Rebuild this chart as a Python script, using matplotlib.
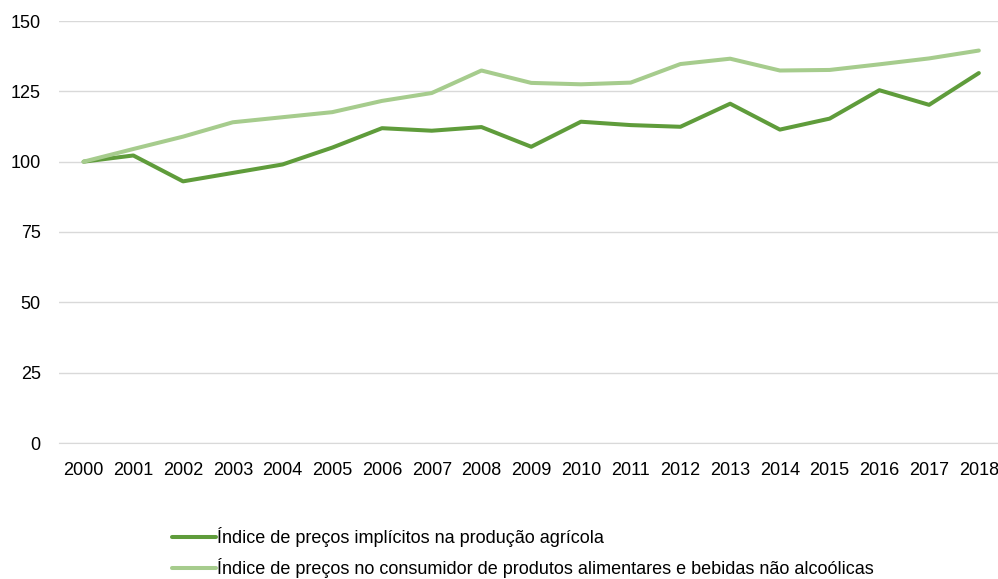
import matplotlib.pyplot as plt

plt.rcParams['font.family'] = ['Liberation Sans', 'DejaVu Sans']

years = [str(y) for y in range(2000, 2019)]
producao = [100, 102.2, 93.0, 96.0, 99.0, 105.0, 111.9, 111.0, 112.3, 105.3,
            114.2, 113.0, 112.4, 120.6, 111.4, 115.3, 125.4, 120.2, 131.5]
consumidor = [100, 104.5, 108.9, 114.0, 115.8, 117.6, 121.6, 124.4, 132.4, 128.0,
              127.5, 128.1, 134.7, 136.6, 132.4, 132.6, 134.6, 136.7, 139.5]
labels = ['Índice de preços implícitos na produção agrícola',
          'Índice de preços no consumidor de produtos alimentares e bebidas não alcoólicas']

fig = plt.figure(figsize=(9.98, 5.79), dpi=100)
ax = fig.add_axes([58.7 / 998, 136 / 579, 945 / 998, 422 / 579])

x = range(len(years))
ax.plot(x, producao, color='#5f9c3b', lw=2.9, solid_capstyle='round', label=labels[0])
ax.plot(x, consumidor, color='#a6cc8d', lw=2.9, solid_capstyle='round', label=labels[1])

ax.set_xlim(-0.5, len(years) - 0.5)
ax.set_ylim(0, 150)
ax.set_yticks([0, 25, 50, 75, 100, 125, 150])
ax.set_xticks(list(x))
ax.set_xticklabels(years)
ax.grid(axis='y', color='#d9d9d9', lw=1)
ax.set_axisbelow(True)
for s in ['top', 'right', 'left']:
    ax.spines[s].set_visible(False)
ax.spines['bottom'].set_color('#d9d9d9')
ax.tick_params(length=0, labelsize=13, colors='#000000')
ax.tick_params(axis='y', pad=13)
ax.tick_params(axis='x', pad=13.5)

fig.legend(loc='upper left', bbox_to_anchor=(172 / 998, 1 - 527 / 579), frameon=False,
           fontsize=13, handlelength=2.45, handletextpad=0.05, labelspacing=0.6,
           borderaxespad=0, borderpad=0)

fig.savefig('out.png', dpi=100)
